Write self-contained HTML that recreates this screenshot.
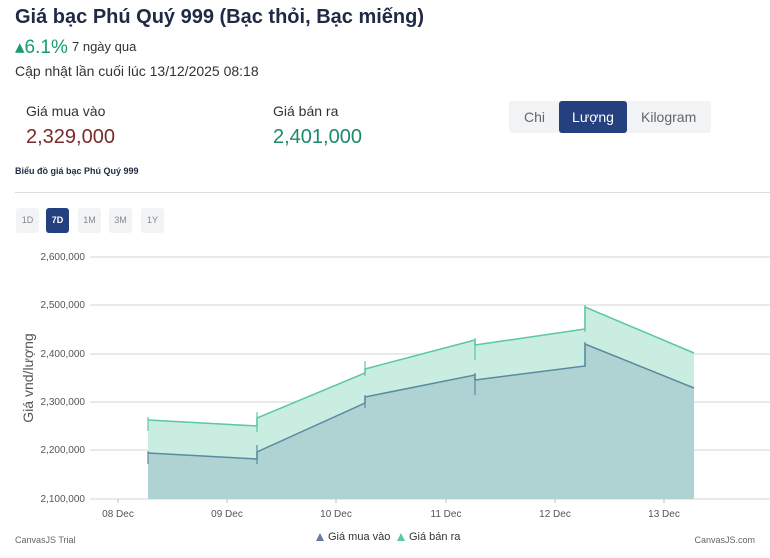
<!DOCTYPE html>
<html><head><meta charset="utf-8"><style>
body{margin:0;width:770px;height:558px;background:#fff;font-family:"Liberation Sans",sans-serif;position:relative;overflow:hidden}
.a{position:absolute;white-space:nowrap}
.btn{position:absolute;top:208px;width:23px;height:25px;background:#f1f3f5;border-radius:3px;font-size:9px;color:#888;text-align:center;line-height:25px}
</style></head><body>
<div class="a" style="left:15px;top:6px;font-size:20px;font-weight:bold;color:#1f2a44">Giá bạc Phú Quý 999 (Bạc thỏi, Bạc miếng)</div>
<div class="a" style="left:15px;top:36px;font-size:19px;color:#1a9a73">▴6.1%</div>
<div class="a" style="left:72px;top:39px;font-size:13px;color:#333">7 ngày qua</div>
<div class="a" style="left:15px;top:63px;font-size:14px;color:#333">Cập nhật lần cuối lúc 13/12/2025 08:18</div>
<div class="a" style="left:26px;top:103px;font-size:14px;color:#333">Giá mua vào</div>
<div class="a" style="left:26px;top:126px;font-size:20px;color:#7a2a2a">2,329,000</div>
<div class="a" style="left:273px;top:103px;font-size:14px;color:#333">Giá bán ra</div>
<div class="a" style="left:273px;top:126px;font-size:20px;color:#1a8a6a">2,401,000</div>
<div class="a" style="left:509px;top:101px;width:202px;height:32px;background:#f1f3f5;border-radius:3px"></div>
<div class="a" style="left:524px;top:109px;font-size:14px;color:#666">Chi</div>
<div class="a" style="left:559px;top:101px;width:68px;height:32px;background:#24407f;border-radius:3px;color:#fff;font-size:14px;text-align:center;line-height:32px">Lượng</div>
<div class="a" style="left:641px;top:109px;font-size:14px;color:#666">Kilogram</div>
<div class="a" style="left:15px;top:166px;font-size:9px;font-weight:bold;color:#1f2a44">Biểu đồ giá bạc Phú Quý 999</div>
<div class="a" style="left:15px;top:192px;width:755px;height:1px;background:#ddd"></div>
<div class="btn" style="left:16px">1D</div>
<div class="btn" style="left:46px;background:#24407f;color:#fff;font-weight:bold">7D</div>
<div class="btn" style="left:78px">1M</div>
<div class="btn" style="left:109px">3M</div>
<div class="btn" style="left:141px">1Y</div>
<svg class="a" style="left:0;top:0" width="770" height="558" font-family="Liberation Sans, sans-serif">
<g stroke="#d6d6d6" stroke-width="1">
<line x1="90" x2="770" y1="257" y2="257"/><line x1="90" x2="770" y1="305" y2="305"/><line x1="90" x2="770" y1="354" y2="354"/><line x1="90" x2="770" y1="402" y2="402"/><line x1="90" x2="770" y1="450" y2="450"/><line x1="90" x2="770" y1="499" y2="499"/>
</g>
<g font-size="10" fill="#555" text-anchor="end">
<text x="85" y="260">2,600,000</text><text x="85" y="308">2,500,000</text><text x="85" y="357">2,400,000</text><text x="85" y="405">2,300,000</text><text x="85" y="453">2,200,000</text><text x="85" y="502">2,100,000</text>
</g>
<text transform="translate(33,378) rotate(-90)" font-size="14" fill="#555" text-anchor="middle">Giá vnd/lượng</text>
<path d="M148,499 L148,420 L257,426 L257,418 L365,373 L365,369 L475,340 L475,345 L585,329 L585,307 L694,353 L694,499Z" fill="#c9ede0"/>
<path d="M148,420 L257,426 L257,418 L365,373 L365,369 L475,340 L475,345 L585,329 L585,307 L694,353" fill="none" stroke="#5ac8a0" stroke-width="1.5"/>
<path d="M148,499 L148,453 L257,459 L257,452 L365,403 L365,397 L475,375 L475,380 L585,366 L585,344 L694,388 L694,499Z" fill="#aed3d2"/>
<path d="M148,453 L257,459 L257,452 L365,403 L365,397 L475,375 L475,380 L585,366 L585,344 L694,388" fill="none" stroke="#5a8aa0" stroke-width="1.5"/>
<g stroke="#5ac8a0" stroke-width="1.2"><line x1="148" x2="148" y1="417" y2="431"/><line x1="257" x2="257" y1="412" y2="432"/><line x1="365" x2="365" y1="361" y2="376"/><line x1="475" x2="475" y1="338" y2="360"/><line x1="585" x2="585" y1="305" y2="332"/></g>
<g stroke="#5a8aa0" stroke-width="1.2"><line x1="148" x2="148" y1="451" y2="464"/><line x1="257" x2="257" y1="445" y2="464"/><line x1="365" x2="365" y1="395" y2="408"/><line x1="475" x2="475" y1="373" y2="395"/><line x1="585" x2="585" y1="342" y2="367"/></g>
<g stroke="#bbb"><line x1="118" x2="118" y1="499" y2="503"/><line x1="227" x2="227" y1="499" y2="503"/><line x1="336" x2="336" y1="499" y2="503"/><line x1="446" x2="446" y1="499" y2="503"/><line x1="555" x2="555" y1="499" y2="503"/><line x1="664" x2="664" y1="499" y2="503"/></g>
<g font-size="10" fill="#555" text-anchor="middle">
<text x="118" y="517">08 Dec</text><text x="227" y="517">09 Dec</text><text x="336" y="517">10 Dec</text><text x="446" y="517">11 Dec</text><text x="555" y="517">12 Dec</text><text x="664" y="517">13 Dec</text>
</g>
<text x="15" y="543" font-size="9" fill="#666">CanvasJS Trial</text>
<text x="755" y="543" font-size="9" fill="#666" text-anchor="end">CanvasJS.com</text>
<polygon points="316,541 320,533 324,541" fill="#6a7aa8"/>
<text x="328" y="540" font-size="11" fill="#333">Giá mua vào</text>
<polygon points="397,541 401,533 405,541" fill="#5ac8a0"/>
<text x="409" y="540" font-size="11" fill="#333">Giá bán ra</text>
</svg>
</body></html>
